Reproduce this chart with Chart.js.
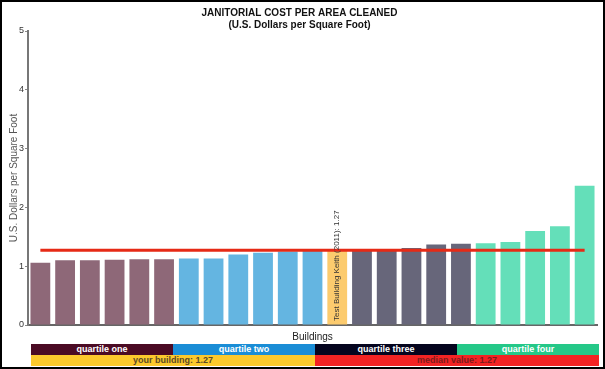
<!DOCTYPE html>
<html>
<head>
<meta charset="utf-8">
<script src="https://cdn.jsdelivr.net/npm/chart.js@4.4.1/dist/chart.umd.min.js"></script>
<style>
  html, body { margin: 0; padding: 0; background: #fff; }
  body { width: 605px; height: 369px; position: relative; overflow: hidden; font-family: "Liberation Sans", Arial, sans-serif; }
  #wrap { position: absolute; left: 0; top: 0; width: 605px; height: 345px; }
  #frame { position: absolute; left: 0; top: 0; width: 605px; height: 369px; box-sizing: border-box; border: 2px solid #000; pointer-events: none; }
  .row { position: absolute; left: 31px; width: 568px; height: 11px; display: flex; }
  .row div { flex: 1; text-align: center; font-size: 9px; font-weight: bold; line-height: 11px; white-space: nowrap; }
  #row1 { top: 344px; }
  #row2 { top: 355px; }
  #row1 div { color: #fff; }
</style>
</head>
<body>
<div id="wrap"><canvas id="c"></canvas></div>
<div class="row" id="row1"></div>
<div class="row" id="row2"></div>
<div id="frame"></div>
<script>
// ---- data ----
const buildings = ["Building 1","Building 2","Building 3","Building 4","Building 5","Building 6",
  "Building 7","Building 8","Building 9","Building 10","Building 11","Building 12",
  "Test Building Keith (2011)",
  "Building 14","Building 15","Building 16","Building 17","Building 18",
  "Building 19","Building 20","Building 21","Building 22","Building 23"];
const costs = [1.06,1.10,1.10,1.11,1.12,1.12,
  1.13,1.13,1.20,1.23,1.25,1.26,
  1.27,
  1.27,1.29,1.31,1.37,1.38,
  1.39,1.41,1.60,1.68,2.37];
const group = [1,1,1,1,1,1, 2,2,2,2,2,2, 0, 3,3,3,3,3, 4,4,4,4,4]; // 0 = your building
const medianValue = 1.27;
const yourBuildingIndex = 12;
const yourBuildingLabel = "Test Building Keith (2011): 1.27";
const yTicks = [0,1,2,3,4,5];
const quartileNames = ["quartile one","quartile two","quartile three","quartile four"];
const summaryNames = ["your building: 1.27","median value: 1.27"];

// ---- styles ----
const barColors = {0:"#fccb6e",1:"#8e6878",2:"#64b5e1",3:"#67667a",4:"#64dfb9"};
const legendColors = ["#4b0b24","#1a8dd6","#05051e","#25c888"];
const summaryColors = ["#fcc92c","#f32323"];
const summaryText = ["#5b4a26","#7a1c1c"];

const row1 = document.getElementById('row1');
quartileNames.forEach((n,i)=>{ const d=document.createElement('div'); d.textContent=n; d.style.background=legendColors[i]; row1.appendChild(d); });
const row2 = document.getElementById('row2');
summaryNames.forEach((n,i)=>{ const d=document.createElement('div'); d.textContent=n; d.style.background=summaryColors[i]; d.style.color=summaryText[i]; row2.appendChild(d); });

const labelPlugin = {
  id: 'yourLabel',
  afterDatasetsDraw(chart) {
    const meta = chart.getDatasetMeta(0);
    const el = meta.data[yourBuildingIndex];
    const ctx = chart.ctx;
    const y0 = chart.scales.y.getPixelForValue(0);
    ctx.save();
    ctx.translate(el.x, y0 - 4);
    ctx.rotate(-Math.PI/2);
    ctx.font = '8px "Liberation Sans", Arial, sans-serif';
    ctx.fillStyle = '#333';
    ctx.textAlign = 'left';
    ctx.textBaseline = 'middle';
    ctx.fillText(yourBuildingLabel, 0, 0);
    ctx.restore();
  }
};

const fontFam = '"Liberation Sans", Arial, sans-serif';
new Chart(document.getElementById('c'), {
  data: {
    labels: buildings,
    datasets: [
      { type: 'bar', data: costs, backgroundColor: group.map(g=>barColors[g]),
        barPercentage: 0.8, categoryPercentage: 1.0, order: 1 },
      { type: 'line', data: buildings.map(()=>medianValue), borderColor: '#e62a16',
        borderWidth: 3, pointRadius: 0, fill: false, order: 0 }
    ]
  },
  options: {
    responsive: true, maintainAspectRatio: false, animation: false,
    layout: { padding: { left: 2, right: 8, top: 0, bottom: 2 } },
    plugins: {
      legend: { display: false },
      tooltip: { enabled: false },
      title: { display: true, text: 'JANITORIAL COST PER AREA CLEANED', color: '#111',
        font: { family: fontFam, size: 10, weight: 'bold' }, padding: { top: 7, bottom: 0 } },
      subtitle: { display: true, text: '(U.S. Dollars per Square Foot)', color: '#111',
        font: { family: fontFam, size: 10, weight: 'bold' }, padding: { top: 0, bottom: 0 } }
    },
    scales: {
      x: {
        grid: { display: false },
        border: { display: true, color: '#666', width: 2 },
        ticks: { display: false },
        title: { display: true, text: 'Buildings', color: '#222', font: { family: fontFam, size: 10 }, padding: { top: 0, bottom: 0 } },
        afterFit: s => { s.height = 18; }
      },
      y: {
        min: 0, max: 5,
        afterBuildTicks: s => { s.ticks = yTicks.map(v=>({value:v})); },
        grid: { drawOnChartArea: false, tickLength: 3, color: '#888' },
        border: { display: true, color: '#777', width: 2 },
        ticks: { font: { family: fontFam, size: 9 }, color: '#333', padding: 1 },
        title: { display: true, text: 'U.S. Dollars per Square Foot', color: '#555', font: { family: fontFam, size: 10 }, padding: { top: 6, bottom: 0 } },
        afterFit: s => { s.width = 26; }
      }
    }
  },
  plugins: [labelPlugin]
});
</script>
</body>
</html>
